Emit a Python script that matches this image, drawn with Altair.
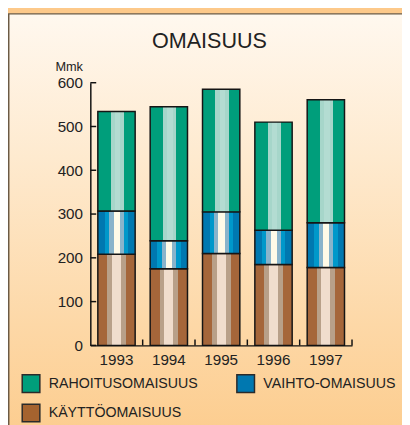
import altair as alt
import pandas as pd

years = ["1993", "1994", "1995", "1996", "1997"]
kaytto = [208, 175, 210, 185, 178]      # KÄYTTÖOMAISUUS
vaihto = [99, 64, 95, 78, 102]          # VAIHTO-OMAISUUS
rahoitus = [227, 306, 280, 247, 281]    # RAHOITUSOMAISUUS
series_names = ["RAHOITUSOMAISUUS", "VAIHTO-OMAISUUS", "KÄYTTÖOMAISUUS"]
y_ticks = [0, 100, 200, 300, 400, 500, 600]

rows = []
for i, yr in enumerate(years):
    rows.append({"year": yr, "series": "KÄYTTÖOMAISUUS", "value": kaytto[i], "order": 0})
    rows.append({"year": yr, "series": "VAIHTO-OMAISUUS", "value": vaihto[i], "order": 1})
    rows.append({"year": yr, "series": "RAHOITUSOMAISUUS", "value": rahoitus[i], "order": 2})
df = pd.DataFrame(rows)

FONT = "Liberation Sans"
W, H = 267, 268
PAD_L, PAD_T = 84, 72
TOTAL_W, TOTAL_H = 402, 417
P_IN, P_OUT = 0.287, 0.1435
OUTER_PX = P_OUT * W / len(years)


def stripes(spec):
    stops = []
    for a, b, c in spec:
        stops.append(alt.GradientStop(offset=a, color=c))
        stops.append(alt.GradientStop(offset=b, color=c))
    return alt.Gradient(gradient="linear", x1=0, y1=0, x2=1, y2=0, stops=stops)


brown = stripes([
    (0.0, 0.25, "#a5663a"), (0.25, 0.38, "#b8a089"), (0.38, 0.62, "#f0ddcd"),
    (0.62, 0.75, "#b8a089"), (0.75, 1.0, "#a5663a"),
])
blue = stripes([
    (0.0, 0.19, "#0078b0"), (0.19, 0.31, "#0098ca"), (0.31, 0.42, "#89b4cb"),
    (0.42, 0.59, "#fffbe8"), (0.59, 0.70, "#89b4cb"), (0.70, 0.82, "#0098ca"),
    (0.82, 1.0, "#0078b0"),
])
green = stripes([
    (0.0, 0.34, "#009e7b"), (0.34, 0.46, "#a6d6ca"), (0.46, 0.60, "#b3dcd2"),
    (0.60, 0.70, "#a6d6ca"), (0.70, 1.0, "#009e7b"),
])

xscale = alt.Scale(paddingInner=P_IN, paddingOuter=P_OUT)
yscale = alt.Scale(domain=[0, 600], nice=False)

base = alt.Chart(df).transform_stack(
    stack="value", groupby=["year"], as_=["y0", "y1"],
    sort=[alt.SortField("order", order="ascending")],
)

main_x_axis = alt.Axis(
    title=None, labelAngle=0, tickSize=0, labelPadding=8, labelFontSize=15.5,
    labelFont=FONT, labelColor="#222", domainColor="#111", domainWidth=1.5, zindex=1,
)
main_y_axis = alt.Axis(
    values=y_ticks, tickSize=0, labelPadding=8, labelFontSize=15.5, labelFont=FONT,
    labelColor="#222", domainColor="#111", domainWidth=1.5, grid=False, zindex=1,
    title="Mmk", titleAngle=0, titleX=-8, titleY=-12, titleAlign="right",
    titleBaseline="alphabetic", titleFontSize=13, titleFontWeight="normal",
    titleFont=FONT, titleColor="#222",
)

bg = alt.Chart(pd.DataFrame({"k": [0]})).mark_rect(
    fill=alt.Gradient(
        gradient="linear", x1=0, y1=0, x2=0, y2=1,
        stops=[
            alt.GradientStop(offset=0, color="#fff8ef"),
            alt.GradientStop(offset=0.3, color="#feeacf"),
            alt.GradientStop(offset=0.65, color="#fdd8a7"),
            alt.GradientStop(offset=1, color="#fcc782"),
        ],
    ),
    stroke="#6b5a45", strokeWidth=1.5,
).encode(
    x=alt.value(-PAD_L + 0.75), x2=alt.value(TOTAL_W),
    y=alt.value(-PAD_T + 1.75), y2=alt.value(TOTAL_H),
)

bar_style = dict(stroke="#151515", strokeWidth=1.5)

l_brown = base.transform_filter(alt.datum.series == "KÄYTTÖOMAISUUS").mark_bar(
    fill=brown, **bar_style
).encode(
    x=alt.X("year:O", scale=xscale, axis=main_x_axis),
    y=alt.Y("y0:Q", scale=yscale, axis=main_y_axis),
    y2="y1:Q",
)
l_blue = base.transform_filter(alt.datum.series == "VAIHTO-OMAISUUS").mark_bar(
    fill=blue, **bar_style
).encode(
    x=alt.X("year:O", scale=xscale, axis=None),
    y=alt.Y("y0:Q", scale=yscale, axis=None),
    y2="y1:Q",
)
l_green = base.transform_filter(alt.datum.series == "RAHOITUSOMAISUUS").mark_bar(
    fill=green, **bar_style
).encode(
    x=alt.X("year:O", scale=xscale, axis=None),
    y=alt.Y("y0:Q", scale=yscale, axis=None),
    y2="y1:Q",
)

# inward tick marks: y ticks pointing right, x ticks at band boundaries pointing up
y_tick_marks = alt.Chart(pd.DataFrame({"t": y_ticks})).mark_rule(
    color="#111", strokeWidth=1.5
).encode(
    y=alt.Y("t:Q", scale=yscale, axis=None), x=alt.value(0), x2=alt.value(6),
)
x_tick_marks = alt.Chart(pd.DataFrame({"year": years})).mark_rule(
    color="#111", strokeWidth=1.5, xOffset=OUTER_PX
).encode(
    x=alt.X("year:O", scale=xscale, axis=None, bandPosition=1),
    y=alt.value(H), y2=alt.value(H - 6),
)

legend_layer = base.mark_bar(opacity=0, stroke="#222", strokeWidth=1.5).encode(
    x=alt.X("year:O", scale=xscale, axis=None),
    y=alt.Y("y0:Q", scale=yscale, axis=None),
    y2="y1:Q",
    color=alt.Color("series:N", scale=alt.Scale(
        domain=series_names, range=["#009e7b", "#0078b0", "#a5632f"]),
        legend=alt.Legend(
            title=None, orient="none", legendX=-70.5, legendY=297, direction="horizontal",
            columns=2, columnPadding=36, rowPadding=6, symbolType="square",
            symbolSize=324, symbolStrokeColor="#2a2a2a", symbolStrokeWidth=1.5,
            symbolOpacity=1, labelFont=FONT, labelFontSize=14.5, labelColor="#222",
            labelOffset=8, padding=0, labelLimit=300,
        ),
    ),
)

chart = alt.layer(
    bg, l_brown, l_blue, l_green, y_tick_marks, x_tick_marks, legend_layer
).resolve_axis(
    x="independent", y="independent"
).properties(
    width=W, height=H,
    title=alt.TitleParams(
        text="OMAISUUS", fontSize=22, font=FONT, fontWeight="normal",
        color="#222", anchor="middle", frame="group", dx=-12, offset=0,
        baseline="alphabetic", dy=58,
    ),
    autosize=alt.AutoSizeParams(type="none"),
    padding={"left": PAD_L, "top": PAD_T, "right": TOTAL_W - PAD_L - W, "bottom": TOTAL_H - PAD_T - H},
    background="#fdc98a",
).configure_view(stroke=None)

chart.save("out.html", embed_options={"renderer": "svg", "actions": False})
